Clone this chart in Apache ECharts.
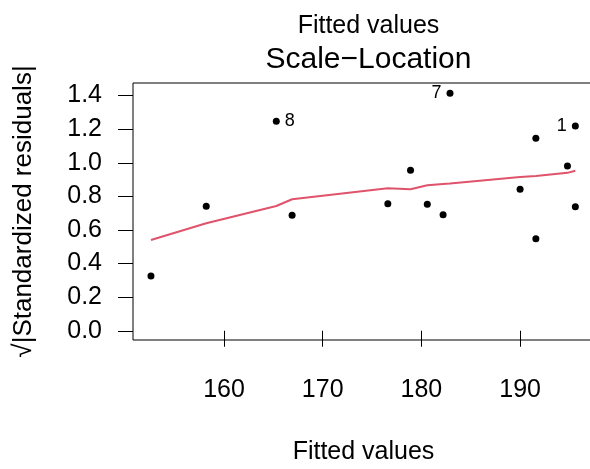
<!DOCTYPE html>
<html>
<head>
<meta charset="utf-8">
<script src="https://cdn.jsdelivr.net/npm/echarts@6/dist/echarts.min.js"></script>
<style>
  html, body { margin: 0; padding: 0; background: #fff; }
  #myChart { width: 590px; height: 469px; }
</style>
</head>
<body>
<div id="myChart"></div>
<script>
// 数据：拟合值 与 sqrt(|标准化残差|)
var fittedValues = [152.6, 158.2, 165.3, 166.9, 176.6, 178.9, 180.6, 182.2, 182.9, 190.0, 191.6, 191.6, 194.8, 195.6, 195.6];
var sqrtStdResid = [0.326, 0.741, 1.247, 0.687, 0.756, 0.955, 0.753, 0.691, 1.414, 0.842, 1.146, 0.548, 0.981, 1.219, 0.739];
var pointLabels = ['', '', '8', '', '', '', '', '', '7', '', '', '', '', '1', ''];

// 平滑曲线 (lowess)
var smoothX = [152.6, 158.2, 165.3, 166.9, 176.6, 178.9, 180.6, 182.2, 182.9, 190.0, 191.6, 194.8, 195.6];
var smoothY = [0.540, 0.640, 0.743, 0.783, 0.848, 0.842, 0.866, 0.874, 0.877, 0.915, 0.921, 0.940, 0.953];

var xTicks = [160, 170, 180, 190];
var yTicks = [0.0, 0.2, 0.4, 0.6, 0.8, 1.0, 1.2, 1.4];

var font = 'Liberation Sans, Arial, Helvetica, sans-serif';

var pts = [];
for (var i = 0; i < fittedValues.length; i++) {
  var lbl = pointLabels[i];
  pts.push({
    value: [fittedValues[i], sqrtStdResid[i]],
    label: {
      show: lbl !== '',
      formatter: lbl,
      position: lbl === '8' ? 'right' : 'left'
    }
  });
}
var line = [];
for (var j = 0; j < smoothX.length; j++) {
  line.push([smoothX[j], smoothY[j]]);
}

var myChart = echarts.init(document.getElementById('myChart'));
myChart.setOption({
  animation: false,
  backgroundColor: '#fff',
  textStyle: { fontFamily: font },
  title: [{
    text: 'Fitted values',
    left: 363.5,
    textAlign: 'center',
    top: 9,
    textStyle: { fontFamily: font, fontSize: 25, fontWeight: 'normal', color: '#000' }
  }, {
    text: 'Scale\u2212Location',
    left: 363.5,
    textAlign: 'center',
    top: 40,
    textStyle: { fontFamily: font, fontSize: 30, fontWeight: 'normal', color: '#000' }
  }],
  grid: {
    left: 133,
    top: 83,
    right: -4,
    bottom: 129,
    outerBoundsMode: 'none',
    containLabel: false,
    show: true,
    borderColor: '#000',
    borderWidth: 1
  },
  xAxis: {
    type: 'value',
    min: 150.78,
    max: 197.49,
    name: 'Fitted values',
    nameLocation: 'middle',
    nameGap: 100,
    nameTextStyle: { fontFamily: font, fontSize: 25, color: '#000' },
    axisLine: { show: false },
    splitLine: { show: false },
    axisTick: { show: true, inside: false, length: 16, customValues: xTicks, lineStyle: { color: '#000', width: 1 } },
    axisLabel: { customValues: xTicks, fontFamily: font, fontSize: 25, color: '#000', margin: 38 }
  },
  yAxis: {
    type: 'value',
    min: -0.055,
    max: 1.475,
    name: '\u221A|Standardized residuals|',
    nameLocation: 'middle',
    nameGap: 96,
    nameTextStyle: { fontFamily: font, fontSize: 26, color: '#000' },
    axisLine: { show: false },
    splitLine: { show: false },
    axisTick: { show: true, inside: false, length: 15, customValues: yTicks, lineStyle: { color: '#000', width: 1 } },
    axisLabel: {
      customValues: yTicks,
      fontFamily: font, fontSize: 25, color: '#000', margin: 31,
      formatter: function (v) { return v.toFixed(1); }
    }
  },
  series: [{
    type: 'scatter',
    data: pts,
    symbol: 'circle',
    symbolSize: 7,
    itemStyle: { color: '#000', opacity: 1 },
    label: { fontFamily: font, fontSize: 18, color: '#000', distance: 5 },
    z: 3
  }, {
    type: 'line',
    data: line,
    showSymbol: false,
    symbol: 'none',
    lineStyle: { color: '#DF536B', width: 2 },
    z: 2
  }]
});
</script>
</body>
</html>
